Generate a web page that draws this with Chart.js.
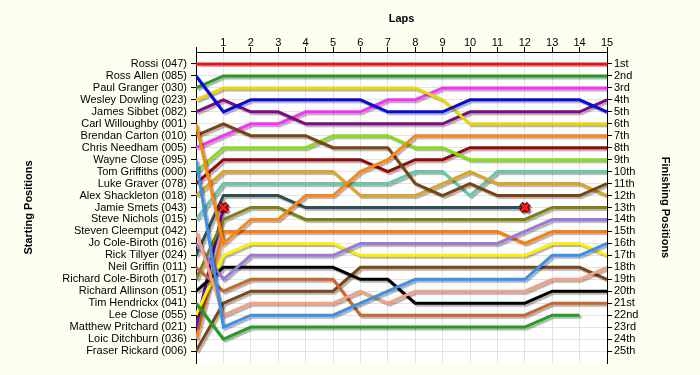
<!DOCTYPE html>
<html>
<head>
<meta charset="utf-8">
<script src="https://cdn.jsdelivr.net/npm/chart.js@4.4.0/dist/chart.umd.min.js"></script>
<style>
html, body { margin: 0; padding: 0; background: #fdfdf0; }
</style>
</head>
<body>
<canvas id="lapChart" width="700" height="375"></canvas>
<script>
// laps along the top axis
const laps = [0,1,2,3,4,5,6,7,8,9,10,11,12,13,14,15];

// grid order (left axis)
const startNames = [
  'Rossi (047)', 'Ross Allen (085)', 'Paul Granger (030)', 'Wesley Dowling (023)',
  'James Sibbet (082)', 'Carl Willoughby (001)', 'Brendan Carton (010)', 'Chris Needham (005)',
  'Wayne Close (095)', 'Tom Griffiths (000)', 'Luke Graver (078)', 'Alex Shackleton (018)',
  'Jamie Smets (043)', 'Steve Nichols (015)', 'Steven Cleemput (042)', 'Jo Cole-Biroth (016)',
  'Rick Tillyer (024)', 'Neil Griffin (011)', 'Richard Cole-Biroth (017)', 'Richard Allinson (051)',
  'Tim Hendrickx (041)', 'Lee Close (055)', 'Matthew Pritchard (021)', 'Loic Ditchburn (036)',
  'Fraser Rickard (006)'
];

// right axis
const finishLabels = [
  '1st','2nd','3rd','4th','5th','6th','7th','8th','9th','10th','11th','12th','13th',
  '14th','15th','16th','17th','18th','19th','20th','21st','22nd','23rd','24th','25th'
];

// position on each lap (index = lap number)
const rossi            = [1,1,1,1,1,1,1,1,1,1,1,1,1,1,1,1];
const rossAllen        = [2,5,4,4,4,4,4,5,5,5,4,4,4,4,4,5];
const paulGranger      = [3,2,2,2,2,2,2,2,2,2,2,2,2,2,2,2];
const wesleyDowling    = [4,3,3,3,3,3,3,3,3,4,6,6,6,6,6,6];
const jamesSibbet      = [5,4,5,5,6,6,6,6,6,6,5,5,5,5,5,4];
const carlWilloughby   = [6,16,14,14,12,12,10,9,7,7,7,7,7,7,7,7];
const brendanCarton    = [7,6,7,7,7,8,8,8,11,12,11,12,12,12,12,11];
const chrisNeedham     = [8,7,6,6,5,5,5,4,4,3,3,3,3,3,3,3];
const wayneClose       = [9,23,22,22,22,22,21,20,19,19,19,19,19,17,17,16];
const tomGriffiths     = [10,8,8,8,8,7,7,7,8,8,9,9,9,9,9,9];
const lukeGraver       = [11,9,9,9,9,9,9,10,9,9,8,8,8,8,8,8];
const alexShackleton   = [12,10,10,10,10,10,12,12,12,11,10,11,11,11,11,12];
const jamieSmets       = [13];
const steveNichols     = [14,11,11,11,11,11,11,11,10,10,12,10,10,10,10,10];
const stevenCleemput   = [15,22,21,21,21,21,20,21,20,20,20,20,20,19,19,18];
const joColeBiroth     = [16,19,17,17,17,17,16,16,16,16,16,16,15,14,14,14];
const rickTillyer      = [17,12,12,12,13,13,13,13,13,13,13,13,13];
const neilGriffin      = [18,20,19,19,19,19,22,22,22,22,22,22,22,21,21,21];
const richardColeBiroth= [19,14,13,13,14,14,14,14,14,14,14,14,14,13,13,13];
const richardAllinson  = [20,18,18,18,18,18,19,19,21,21,21,21,21,20,20,20];
const timHendrickx     = [21,24,23,23,23,23,23,23,23,23,23,23,23,22,22];
const leeClose         = [22,17,16,16,16,16,17,17,17,17,17,17,17,16,16,17];
const matthewPritchard = [23,13];
const loicDitchburn    = [24,15,15,15,15,15,15,15,15,15,15,15,16,15,15,15];
const fraserRickard    = [25,21,20,20,20,20,18,18,18,18,18,18,18,18,18,19];

const drivers = [rossi, rossAllen, paulGranger, wesleyDowling, jamesSibbet, carlWilloughby,
  brendanCarton, chrisNeedham, wayneClose, tomGriffiths, lukeGraver, alexShackleton, jamieSmets,
  steveNichols, stevenCleemput, joColeBiroth, rickTillyer, neilGriffin, richardColeBiroth,
  richardAllinson, timHendrickx, leeClose, matthewPritchard, loicDitchburn, fraserRickard];

// drivers who retired (X on their last lap)
const retired = [rickTillyer, matthewPritchard];

const colours = ['#ee1111', '#0a0ad8', '#1f9e1f', '#ecd800', '#7d0a80', '#ff8410',
  '#7a4412', '#ff2cff', '#3a90ea', '#84e010', '#940808', '#dca524', '#999999',
  '#66c8a8', '#f5a080', '#9a78dc', '#2f4f4f', '#c8682e', '#808010',
  '#000000', '#1f9e1f', '#fff000', '#6a0aa0', '#ff7c0a', '#7e4616'];

const font = { family: '"Liberation Sans", Arial, sans-serif', size: 11 };
const titleFont = { family: '"Liberation Sans", Arial, sans-serif', size: 11, weight: 'bold' };

const datasets = drivers.map((d, i) => ({
  label: startNames[i],
  data: d.map((p, lap) => ({ x: laps[lap], y: p })),
  borderColor: colours[i],
  borderWidth: 3,
  pointRadius: 0,
  tension: 0,
  fill: false
}));

// retirement crosses: dark outline under a red cross
const crossPts = retired.map(d => ({ x: laps[d.length - 1], y: d[d.length - 1] }));
datasets.push({ data: crossPts, showLine: false, pointStyle: 'crossRot', pointRadius: 5,
  pointBorderColor: '#ff1a1a', pointBorderWidth: 3, order: -2 });
datasets.push({ data: crossPts, showLine: false, pointStyle: 'crossRot', pointRadius: 5.5,
  pointBorderColor: '#5a0000', pointBorderWidth: 5, order: -1 });

const background = {
  id: 'background',
  beforeDraw(chart) {
    const { ctx, chartArea: a } = chart;
    ctx.save();
    ctx.fillStyle = '#fdfdf0';
    ctx.fillRect(0, 0, chart.width, chart.height);
    ctx.fillStyle = '#ffffff';
    ctx.fillRect(a.left, a.top, a.right - a.left, a.bottom - a.top);
    ctx.restore();
  }
};

// soft grey drop shadow under the lines
const shadow = {
  id: 'shadow',
  beforeDatasetsDraw(chart) {
    const c = chart.ctx;
    c.save();
    c.shadowColor = 'rgba(0,0,0,0.3)';
    c.shadowOffsetX = 2;
    c.shadowOffsetY = 2;
    c.shadowBlur = 1;
  },
  afterDatasetsDraw(chart) { chart.ctx.restore(); }
};

const rowTicks = s => { s.ticks = finishLabels.map((_, i) => ({ value: i + 1 })); };

new Chart(document.getElementById('lapChart'), {
  type: 'line',
  data: { datasets: datasets },
  plugins: [background, shadow],
  options: {
    responsive: false,
    animation: false,
    layout: { padding: { bottom: 12 } },
    plugins: { legend: { display: false }, tooltip: { enabled: false } },
    scales: {
      x: {
        type: 'linear', position: 'top', min: 0, max: 15,
        afterBuildTicks: s => { s.ticks = laps.map(v => ({ value: v })); },
        afterFit: s => { s.height = 52; },
        ticks: { callback: v => v === 0 ? '' : String(v), font: font, color: '#000',
          padding: -3, maxRotation: 0, autoSkip: false },
        grid: { color: '#e3e3e3', tickColor: '#000', tickLength: 5 },
        border: { color: '#000' },
        title: { display: true, text: 'Laps', font: titleFont, color: '#000', padding: { top: 12, bottom: 0 } }
      },
      y: {
        type: 'linear', position: 'left', reverse: true, min: 0, max: 26,
        afterBuildTicks: rowTicks,
        afterFit: s => { s.width = 196; },
        ticks: { callback: v => startNames[v - 1], font: font, color: '#000', padding: 4, autoSkip: false },
        grid: { color: '#e3e3e3', tickColor: '#000', tickLength: 5 },
        border: { color: '#000' },
        title: { display: true, text: 'Starting Positions', font: titleFont, color: '#000', padding: { top: 22, bottom: 0 } }
      },
      y2: {
        type: 'linear', position: 'right', reverse: true, min: 0, max: 26,
        afterBuildTicks: rowTicks,
        afterFit: s => { s.width = 93; },
        ticks: { callback: v => finishLabels[v - 1], font: font, color: '#000', padding: 2, autoSkip: false },
        grid: { drawOnChartArea: false, tickColor: '#000', tickLength: 5 },
        border: { color: '#000' },
        title: { display: true, text: 'Finishing Positions', font: titleFont, color: '#000', padding: { top: 28, bottom: 0 } }
      }
    }
  }
});
</script>
</body>
</html>
